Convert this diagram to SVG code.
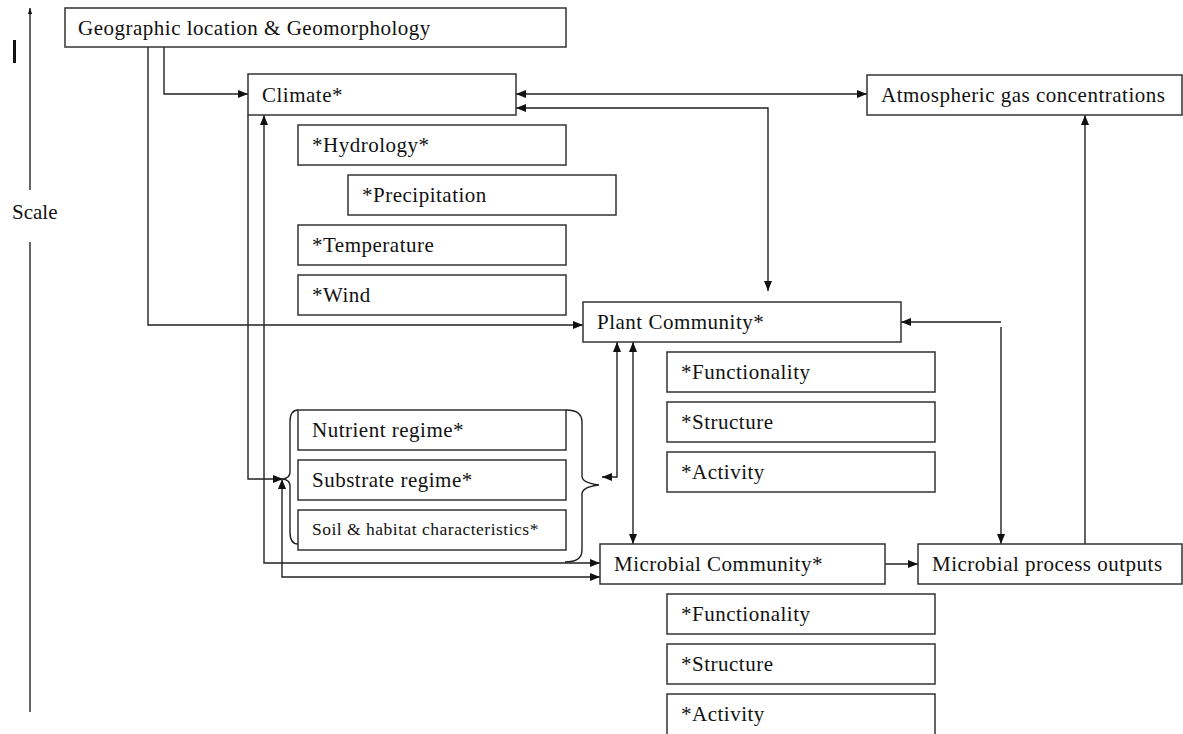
<svg xmlns="http://www.w3.org/2000/svg" width="1183" height="734" viewBox="0 0 1183 734">
<style>
.box{fill:#fff;stroke:#333;stroke-width:1.5}
.t{font-family:"Liberation Serif","Times New Roman",serif;font-size:21px;letter-spacing:0.5px;fill:#111}
.ts{font-family:"Liberation Serif","Times New Roman",serif;font-size:17.5px;letter-spacing:0.5px;fill:#111}
.c{fill:none;stroke:#222;stroke-width:1.4}
</style>
<defs>
<marker id="a" viewBox="0 0 10 10" refX="10" refY="5" markerWidth="10" markerHeight="10" markerUnits="userSpaceOnUse" orient="auto-start-reverse"><path d="M0,1 L10,5 L0,9 Z" fill="#111"/></marker>
<marker id="s" viewBox="0 0 10 10" refX="10" refY="5" markerWidth="8" markerHeight="6" markerUnits="userSpaceOnUse" orient="auto"><path d="M0,1.5 L10,5 L0,8.5 Z" fill="#111"/></marker>
</defs>
<rect width="1183" height="734" fill="#fff"/>
<g id="scale">
<line x1="30" y1="712" x2="30" y2="242" class="c"/>
<line x1="30" y1="190" x2="30" y2="8" class="c" marker-end="url(#s)"/>
<rect x="13" y="40" width="3" height="23" fill="#111"/>
<text x="12" y="219" class="t" style="letter-spacing:0">Scale</text>
</g>
<g id="connectors">
<path class="c" d="M148,47 V325 H583" marker-end="url(#a)"/>
<path class="c" d="M164,47 V94 H248" marker-end="url(#a)"/>
<path class="c" d="M248,115 V479 H283" marker-end="url(#a)"/>
<path class="c" d="M600,563 H264 V115" marker-start="url(#a)" marker-end="url(#a)"/>
<path class="c" d="M600,577 H282 V479" marker-start="url(#a)" marker-end="url(#a)"/>
<path class="c" d="M617,342 V477 H602" marker-start="url(#a)" marker-end="url(#a)"/>
<path class="c" d="M633,342 V544" marker-start="url(#a)" marker-end="url(#a)"/>
<path class="c" d="M516,94 H867" marker-start="url(#a)" marker-end="url(#a)"/>
<path class="c" d="M516,108 H768 V291" marker-start="url(#a)" marker-end="url(#a)"/>
<path class="c" d="M901,322 H1001 M1001,327 V544" marker-start="url(#a)" marker-end="url(#a)"/>
<path class="c" d="M885,564 H918" marker-end="url(#a)"/>
<path class="c" d="M1085,544 V115" marker-end="url(#a)"/>
</g>
<g id="geo"><rect class="box" x="65" y="8" width="501" height="39"/><text class="t" x="78" y="35">Geographic location &amp; Geomorphology</text></g>
<g id="climate"><rect class="box" x="248" y="74" width="268" height="41"/><text class="t" x="262" y="102">Climate*</text></g>
<g id="atmos"><rect class="box" x="867" y="75" width="315" height="40"/><text class="t" x="881" y="102">Atmospheric gas concentrations</text></g>
<g id="hydrology"><rect class="box" x="298" y="125" width="268" height="40"/><text class="t" x="312" y="152">*Hydrology*</text></g>
<g id="precip"><rect class="box" x="348" y="175" width="268" height="40"/><text class="t" x="362" y="202">*Precipitation</text></g>
<g id="temp"><rect class="box" x="298" y="225" width="268" height="40"/><text class="t" x="312" y="252">*Temperature</text></g>
<g id="wind"><rect class="box" x="298" y="275" width="268" height="40"/><text class="t" x="312" y="302">*Wind</text></g>
<g id="plant"><rect class="box" x="583" y="302" width="318" height="40"/><text class="t" x="597" y="329">Plant Community*</text></g>
<g id="pfunc"><rect class="box" x="667" y="352" width="268" height="40"/><text class="t" x="681" y="379">*Functionality</text></g>
<g id="pstruct"><rect class="box" x="667" y="402" width="268" height="40"/><text class="t" x="681" y="429">*Structure</text></g>
<g id="pact"><rect class="box" x="667" y="452" width="268" height="40"/><text class="t" x="681" y="479">*Activity</text></g>
<g id="nutrient"><rect class="box" x="298" y="410" width="268" height="40"/><text class="t" x="312" y="437">Nutrient regime*</text></g>
<g id="substrate"><rect class="box" x="298" y="460" width="268" height="40"/><text class="t" x="312" y="487">Substrate regime*</text></g>
<g id="soil"><rect class="box" x="298" y="510" width="268" height="40"/><text class="ts" x="312" y="535">Soil &amp; habitat characteristics*</text></g>
<g id="braces">
<path class="c" d="M298,410 Q290,410 290,422 V472 Q290,478 283,479 Q290,480 290,486 V532 Q290,544 298,544"/>
<path class="c" d="M566,410 Q582,410 582,422 V476 Q582,483 599,485 Q582,487 582,494 V550 Q582,562 565,562"/>
</g>
<g id="microbial"><rect class="box" x="600" y="544" width="285" height="40"/><text class="t" x="614" y="571">Microbial Community*</text></g>
<g id="mpo"><rect class="box" x="918" y="544" width="264" height="40"/><text class="t" x="932" y="571">Microbial process outputs</text></g>
<g id="mfunc"><rect class="box" x="667" y="594" width="268" height="40"/><text class="t" x="681" y="621">*Functionality</text></g>
<g id="mstruct"><rect class="box" x="667" y="644" width="268" height="40"/><text class="t" x="681" y="671">*Structure</text></g>
<g id="mact"><rect class="box" x="667" y="694" width="268" height="42"/><text class="t" x="681" y="721">*Activity</text></g>
</svg>
